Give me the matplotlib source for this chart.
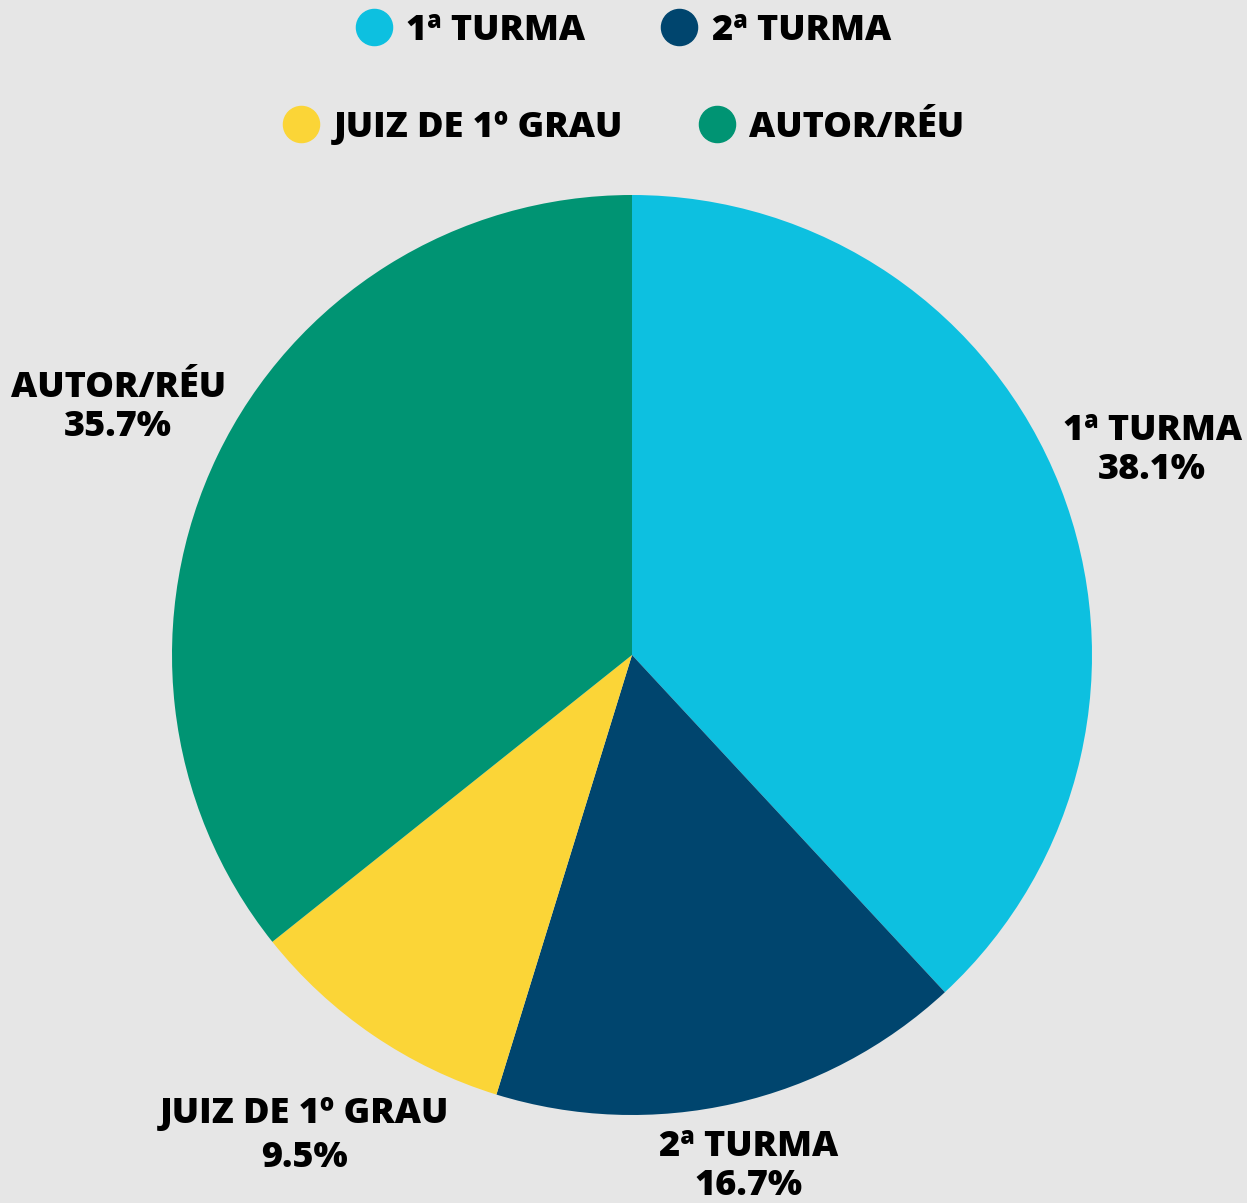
import matplotlib
matplotlib.use("Agg")
import matplotlib.pyplot as plt
from matplotlib.lines import Line2D
import numpy as np

categories = ["1ª TURMA", "2ª TURMA", "JUIZ DE 1º GRAU", "AUTOR/RÉU"]
counts = [16, 7, 4, 15]
colors = ["#0DC0E0", "#00456E", "#FBD537", "#009473"]
label_dist = [1.215, 1.14, 1.265, 1.24]
label_spacing = [1.1, 1.1, 1.3, 1.1]

plt.rcParams['font.family'] = ['Open Sans', 'DejaVu Sans']
BG = "#E6E6E6"

fig = plt.figure(figsize=(12.47, 12.03), dpi=100, facecolor=BG)
W, H = 1247, 1203
cx, cy, R = 632, 655, 460
ax = fig.add_axes([(cx - R) / W, (H - cy - R) / H, 2 * R / W, 2 * R / H])
ax.set_facecolor(BG)
wedges, _ = ax.pie(counts, colors=colors, startangle=90, counterclock=False,
                   radius=1.0, wedgeprops=dict(linewidth=0))
ax.set_xlim(-1, 1)
ax.set_ylim(-1, 1)
ax.set_aspect('equal')
ax.axis('off')

total = sum(counts)
for w, cat, c, d, ls in zip(wedges, categories, counts, label_dist, label_spacing):
    ang = np.deg2rad((w.theta1 + w.theta2) / 2)
    x, y = d * np.cos(ang), d * np.sin(ang)
    ax.text(x, y, f"{cat}\n{100 * c / total:.1f}%", ha='center', va='center',
            fontsize=26, fontweight='heavy', color='black', linespacing=ls,
            clip_on=False)

def handle(col):
    return Line2D([], [], marker='o', linestyle='none', markersize=26,
                  markerfacecolor=col, markeredgecolor=col)

rows = [(0, 1), (2, 3)]
ys = [1 - 31 / H, 1 - 128 / H]
for (i, j), y in zip(rows, ys):
    fig.legend([handle(colors[i]), handle(colors[j])],
               [categories[i], categories[j]], loc='center',
               bbox_to_anchor=(0.5, y), ncol=2, frameon=False,
               prop=dict(family='Open Sans', weight='heavy', size=26),
               handletextpad=0.4, columnspacing=2.1, handlelength=1.0)

fig.savefig("out.png", dpi=100, facecolor=BG)
